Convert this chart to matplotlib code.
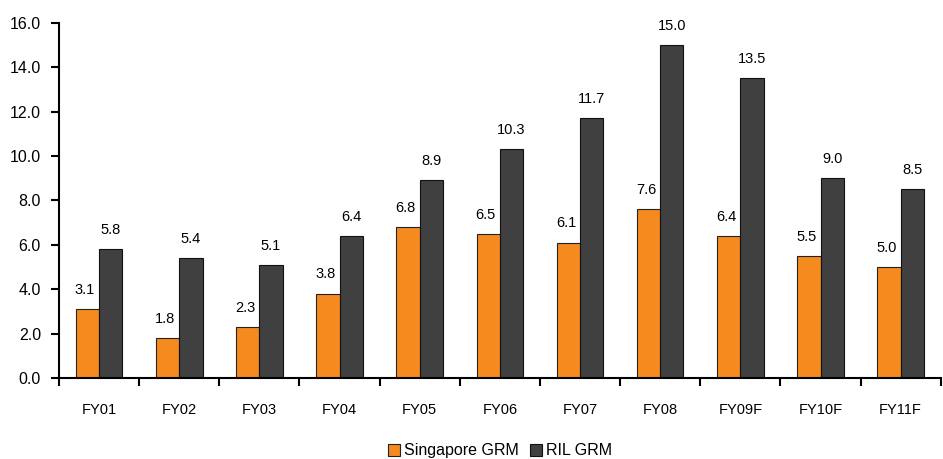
import matplotlib.pyplot as plt
import numpy as np

plt.rcParams['font.family'] = ['Liberation Sans', 'DejaVu Sans']

years = ['FY01', 'FY02', 'FY03', 'FY04', 'FY05', 'FY06', 'FY07', 'FY08', 'FY09F', 'FY10F', 'FY11F']
singapore_grm = [3.1, 1.8, 2.3, 3.8, 6.8, 6.5, 6.1, 7.6, 6.4, 5.5, 5.0]
ril_grm = [5.8, 5.4, 5.1, 6.4, 8.9, 10.3, 11.7, 15.0, 13.5, 9.0, 8.5]

fig = plt.figure(figsize=(9.43, 4.59), dpi=100)
ax = fig.add_axes([0.0626, 0.1765, 0.935, 0.7735])

x = np.arange(len(years))
w = 0.29
b1 = ax.bar(x - w / 2, singapore_grm, w, color='#F58B1F', edgecolor='#222222', linewidth=0.8, label='Singapore GRM')
b2 = ax.bar(x + w / 2, ril_grm, w, color='#404040', edgecolor='#111111', linewidth=0.8, label='RIL GRM')

for rect, v in zip(b1, singapore_grm):
    ax.text(rect.get_x() + rect.get_width() / 2 - 0.03, v + 0.55, '%.1f' % v, ha='center', va='bottom', fontsize=10.5)
for rect, v in zip(b2, ril_grm):
    ax.text(rect.get_x() + rect.get_width() / 2, v + 0.55, '%.1f' % v, ha='center', va='bottom', fontsize=10.5)

ax.set_xlim(-0.5, len(years) - 0.5)
ax.set_ylim(0, 16)
ax.set_yticks(np.arange(0, 16.1, 2))
ax.set_yticklabels(['%.1f' % t for t in np.arange(0, 16.1, 2)], fontsize=11.5)
ax.set_xticks(np.arange(-0.5, len(years), 1))
ax.set_xticklabels([])
ax.set_xticks(x, minor=True)
ax.set_xticklabels(years, minor=True, fontsize=10.5)
ax.tick_params(axis='x', which='minor', length=0, pad=18)
ax.tick_params(axis='both', which='major', direction='out', length=6, width=1.5)
ax.tick_params(axis='y', pad=7)

for s in ['top', 'right']:
    ax.spines[s].set_visible(False)
for s in ['left', 'bottom']:
    ax.spines[s].set_linewidth(1.5)

fig.legend(handles=[b1, b2], loc='lower center', bbox_to_anchor=(0.53, -0.03), ncol=2, frameon=False,
           fontsize=11.5, handlelength=0.75, handleheight=0.75, handletextpad=0.25, columnspacing=0.7)

fig.savefig('out.png', dpi=100)
